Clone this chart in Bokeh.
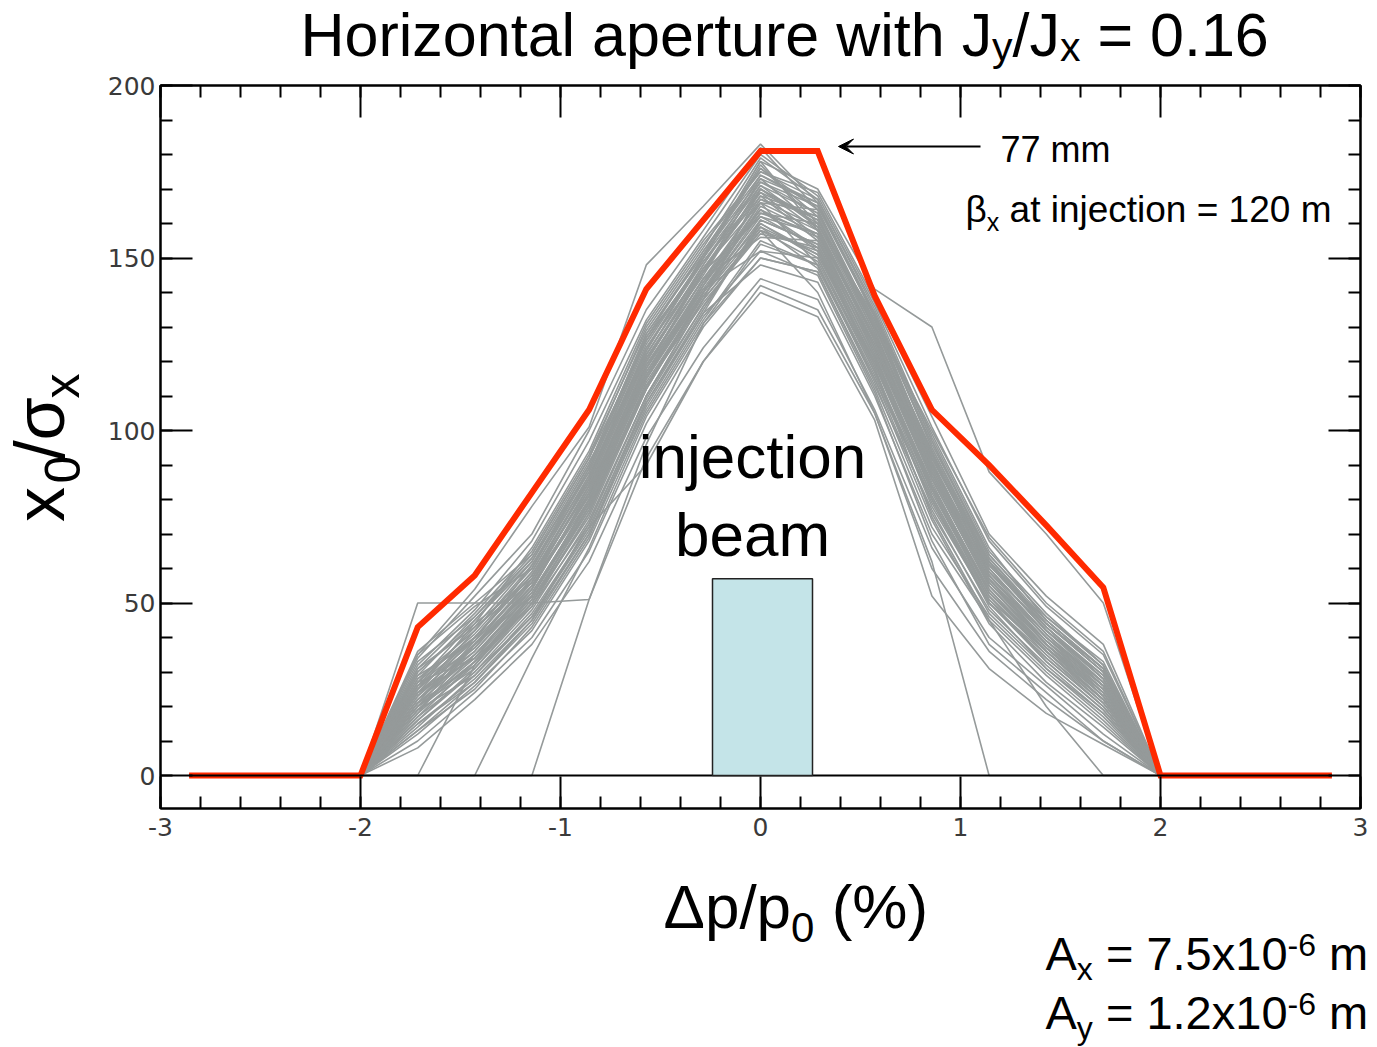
import math
from bokeh.plotting import figure
from bokeh.layouts import column, row
from bokeh.models import (Range1d, LinearAxis, FixedTicker, Label, Arrow, VeeHead,
                          NumeralTickFormatter, CustomJSTickFormatter)
from bokeh.embed import file_html
from bokeh.resources import INLINE

# ---------------- data ----------------
dp_full = [-2.857, -2.0, -1.714, -1.429, -1.143, -0.857, -0.571, -0.286, 0.0,
           0.286, 0.571, 0.857, 1.143, 1.429, 1.714, 2.0, 2.857]
envelope = [0, 0, 43, 58, 82, 106, 141, 161, 181, 181, 139, 106, 90, 72.5, 54.5, 0, 0]

# individual seeds, values at dp = -2.0 ... 2.0 (step 2/7)
tracks = [
    [0, 30, 45, 62, 90, 128, 152, 176, 162, 128, 92, 62, 44, 30, 0],
    [0, 22, 36, 55, 80, 118, 146, 170, 160, 130, 94, 58, 40, 25, 0],
    [0, 18, 32, 50, 75, 112, 140, 165, 157, 124, 86, 55, 38, 24, 0],
    [0, 26, 40, 58, 85, 122, 148, 174, 166, 133, 99, 66, 45, 31, 0],
    [0, 15, 28, 45, 70, 108, 135, 160, 150, 118, 78, 50, 34, 20, 0],
    [0, 32, 48, 68, 97, 132, 156, 180, 168, 137, 101, 68, 49, 35, 0],
    [0, 20, 38, 52, 78, 115, 142, 168, 155, 122, 84, 54, 36, 22, 0],
    [0, 28, 42, 60, 88, 125, 150, 172, 163, 131, 90, 60, 42, 28, 0],
    [0, 12, 26, 42, 68, 105, 132, 155, 148, 115, 76, 48, 32, 18, 0],
    [0, 24, 34, 54, 82, 120, 146, 162, 157, 127, 88, 57, 39, 26, 0],
    [0, 36, 50, 64, 92, 126, 150, 177, 160, 133, 96, 64, 46, 33, 0],
    [0, 17, 30, 48, 74, 110, 138, 158, 152, 120, 82, 52, 35, 21, 0],
    [0, 25, 44, 57, 86, 124, 147, 166, 164, 129, 91, 59, 43, 29, 0],
    [0, 21, 35, 53, 79, 117, 141, 152, 150, 117, 79, 50, 34, 20, 0],
    [0, 29, 39, 61, 89, 127, 149, 169, 161, 132, 93, 61, 44, 31, 0],
    [0, 10, 24, 40, 65, 102, 130, 150, 146, 112, 72, 46, 30, 16, 0],
    [0, 33, 46, 63, 91, 120, 146, 173, 166, 134, 97, 63, 44, 30, 0],
    [0, 19, 33, 51, 77, 114, 139, 161, 154, 121, 85, 53, 37, 23, 0],
    [0, 27, 41, 59, 87, 123, 151, 178, 158, 126, 89, 58, 41, 27, 0],
    [0, 23, 37, 55, 81, 119, 144, 164, 156, 124, 87, 56, 39, 24, 0],
    [0, 14, 29, 47, 72, 108, 134, 148, 143, 110, 70, 45, 29, 15, 0],
    [0, 31, 47, 65, 93, 129, 153, 179, 167, 136, 98, 65, 47, 32, 0],
    [0, 16, 31, 49, 76, 113, 137, 157, 153, 119, 83, 51, 36, 22, 0],
    [0, 26, 43, 56, 84, 121, 145, 171, 159, 127, 90, 58, 41, 26, 0],
    [0, 22, 35, 52, 80, 116, 143, 163, 157, 123, 86, 55, 38, 25, 0],
    [0, 8, 22, 38, 62, 98, 124, 144, 138, 106, 66, 40, 26, 12, 0],
    [0, 35, 49, 60, 89, 127, 152, 174, 165, 133, 92, 61, 45, 31, 0],
    [0, 20, 33, 50, 78, 112, 140, 160, 151, 120, 83, 52, 36, 21, 0],
    [0, 28, 40, 58, 85, 122, 147, 168, 162, 129, 90, 60, 42, 29, 0],
    [0, 24, 36, 54, 83, 119, 144, 156, 155, 125, 88, 56, 39, 25, 0],
    [0, 18, 38, 57, 84, 116, 140, 166, 148, 114, 74, 44, 27, 14, 0],
    [0, 27, 34, 49, 73, 110, 138, 170, 161, 132, 100, 69, 50, 36, 0],
    [0, 13, 27, 44, 70, 106, 133, 152, 145, 111, 68, 38, 24, 10, 0],
    [0, 34, 52, 70, 100, 135, 158, 182, 164, 130, 94, 62, 43, 28, 0],
    [0, 21, 39, 56, 81, 117, 143, 167, 159, 127, 89, 57, 38, 23, 0],
    [0, 50, 50, 50, 51, 96, 131, 154, 148, 116, 80, 50, 35, 20, 0],
    [0, 0, 32, 52, 79, 115, 140, 162, 153, 121, 84, 53, 37, 22, 0],
    [0, 0, 0, 34, 66, 104, 131, 150, 146, 113, 77, 47, 31, 17, 0],
    [0, 0, 0, 0, 51, 92, 120, 142, 135, 105, 60, 36, 22, 10, 0],
    [0, 35, 54, 78, 101, 148, 165, 183, 166, 133, 95, 62, 44, 30, 0],
    [0, 25, 40, 58, 86, 123, 150, 178, 170, 141, 130, 88, 70, 50, 0],
    [0, 20, 34, 52, 78, 113, 138, 158, 140, 105, 62, 0, 0, 0, 0],
    [0, 24, 38, 55, 82, 118, 142, 164, 152, 118, 75, 45, 20, 0, 0],
    [0, 16, 30, 46, 72, 90, 120, 140, 133, 103, 52, 31, 18, 9, 0],
    [0, 30, 44, 66, 94, 131, 155, 175, 169, 138, 104, 70, 52, 38, 0],
    [0, 19, 29, 46, 71, 109, 136, 159, 147, 115, 80, 49, 31, 18, 0],
    [0, 23, 40, 59, 87, 124, 149, 171, 163, 131, 93, 60, 42, 27, 0],
    [0, 17, 33, 52, 80, 116, 142, 166, 158, 125, 87, 56, 38, 23, 0],
    [0, 26, 37, 56, 84, 121, 146, 169, 156, 122, 84, 54, 37, 24, 0],
    [0, 20, 31, 50, 76, 113, 140, 163, 160, 128, 91, 59, 41, 26, 0],
    [0, 29, 46, 64, 92, 130, 154, 175, 167, 135, 97, 64, 46, 32, 0],
    [0, 15, 27, 45, 73, 110, 136, 158, 149, 117, 81, 51, 33, 19, 0],
    [0, 24, 42, 61, 86, 122, 148, 172, 165, 134, 95, 63, 45, 31, 0],
    [0, 19, 35, 53, 79, 115, 141, 164, 153, 121, 83, 53, 36, 22, 0],
    [0, 31, 43, 62, 90, 128, 151, 173, 159, 126, 88, 57, 40, 27, 0],
    [0, 22, 38, 54, 82, 118, 144, 167, 162, 130, 92, 61, 43, 28, 0],
    [0, 13, 25, 43, 69, 107, 134, 161, 154, 123, 86, 55, 37, 22, 0],
    [0, 27, 45, 63, 88, 126, 150, 176, 164, 131, 93, 62, 44, 30, 0],
    [0, 21, 32, 51, 77, 112, 139, 159, 151, 119, 81, 50, 33, 19, 0],
    [0, 25, 39, 57, 83, 120, 147, 170, 158, 127, 90, 58, 40, 26, 0],
]

beam_dp = [-0.24, 0.26]
beam_height = 57

x_major = [-3, -2, -1, 0, 1, 2, 3]
y_major = [0, 50, 100, 150, 200]

# ---------------- page geometry ----------------
PAGE_W, PAGE_H = 1377, 1047
TOP_H, LEFT_W, BOT_H = 70, 90, 187
MAIN_W, MAIN_H = PAGE_W - LEFT_W, PAGE_H - TOP_H - BOT_H

FONT = "Liberation Sans"
SHIFT = 0.355   # anchor -> rendered baseline offset (fraction of font size)
WID = {' ': 278, '%': 889, '(': 333, ')': 333, '.': 278, '/': 278, '-': 333, '=': 584,
       'A': 667, 'H': 722, 'J': 500, 'a': 556, 'b': 556, 'c': 500, 'e': 556, 'h': 556,
       'i': 222, 'j': 222, 'l': 222, 'm': 833, 'n': 556, 'o': 556, 'p': 556, 'r': 333,
       't': 278, 'u': 556, 'w': 722, 'x': 500, 'y': 500, 'z': 500,
       'Δ': 668, 'σ': 578, 'β': 575}
for d in "0123456789":
    WID[d] = 556


def twidth(s, size):
    return sum(WID.get(c, 556) for c in s) * size / 1000.0


def text_panel(x0, y0, w, h):
    """A bare figure whose data coordinates equal page pixels (y downward)."""
    f = figure(width=w, height=h, x_range=Range1d(x0, x0 + w), y_range=Range1d(y0 + h, y0),
               output_backend="svg", toolbar_location=None, x_axis_type=None,
               y_axis_type=None, min_border=0, outline_line_color=None,
               background_fill_color="white", border_fill_color="white")
    f.grid.visible = False
    return f


def add_label(fig, px, py, text, size, conv, align="left", rotated=False):
    """(px, py) = start of the text baseline in page pixels."""
    if rotated:
        x, y = conv(px - SHIFT * size, py + SHIFT * size)
        ang = math.pi / 2
    else:
        x, y = conv(px, py - SHIFT * size)
        ang = 0.0
    fig.add_layout(Label(x=x, y=y, text=text, text_font=FONT,
                         text_font_size=f"{size}px", text_color="black",
                         text_align=align, text_baseline="alphabetic", angle=ang))


def ident(a, b):
    return a, b


def rich(fig, parts, x0, y0, size, conv=ident, rotated=False, sub_off=0.22, sub_ratio=0.68):
    pos = y0 if rotated else x0
    for part in parts:
        text, kind = part[0], part[1]
        gap = part[2] if len(part) > 2 else 0
        if kind == "n":
            s, off = size, 0
        elif kind == "sub":
            s, off = round(size * sub_ratio), size * sub_off
        else:
            s, off = round(size * sub_ratio), -size * 0.30
        body = text.lstrip(" ")
        lead = twidth(text[:len(text) - len(body)], s) + gap
        if rotated:
            pos -= lead
            add_label(fig, x0 + off, pos, body, s, conv, rotated=True)
            pos -= twidth(body, s)
        else:
            pos += lead
            add_label(fig, pos, y0 + off, body, s, conv)
            pos += twidth(body, s)


# ---------------- main chart ----------------
p = figure(width=MAIN_W, height=MAIN_H, x_range=Range1d(-3, 3), y_range=Range1d(-9.565, 200),
           output_backend="svg", toolbar_location=None,
           min_border_left=160 - LEFT_W, min_border_right=17,
           min_border_top=85 - TOP_H, min_border_bottom=TOP_H + MAIN_H - 808,
           background_fill_color="white", border_fill_color="white",
           outline_line_color="black", outline_line_width=2)
p.grid.visible = False

bottom_ax = p.xaxis[0]
left_ax = p.yaxis[0]
top_ax = LinearAxis()
right_ax = LinearAxis()
p.add_layout(top_ax, "above")
p.add_layout(right_ax, "right")

x_minor = [round(-3 + 0.2 * i, 2) for i in range(31)]
y_minor = list(range(0, 201, 10))
for ax in [bottom_ax, top_ax]:
    ax.ticker = FixedTicker(ticks=x_major, minor_ticks=x_minor)
for ax in [left_ax, right_ax]:
    ax.ticker = FixedTicker(ticks=y_major, minor_ticks=y_minor)

for ax in [bottom_ax, left_ax, top_ax, right_ax]:
    ax.axis_line_color = "black"
    ax.axis_line_width = 2
    ax.major_tick_line_color = "black"
    ax.major_tick_line_width = 2
    ax.minor_tick_line_color = "black"
    ax.minor_tick_line_width = 2
    ax.major_tick_in = 32
    ax.major_tick_out = 0
    ax.minor_tick_in = 12
    ax.minor_tick_out = 0

for ax in [bottom_ax, left_ax]:
    ax.formatter = NumeralTickFormatter(format="0")
    ax.major_label_text_font = "DejaVu Sans"
    ax.major_label_text_font_size = "25px"
    ax.major_label_text_color = "#3a3a3a"
bottom_ax.major_label_standoff = 9
left_ax.major_label_standoff = 5

for ax in [top_ax, right_ax]:
    ax.formatter = CustomJSTickFormatter(code="return ''")
    ax.major_label_text_font_size = "0px"
    ax.major_label_standoff = 0

xs = [dp_full for _ in tracks]
ys = [[0] + t + [0] for t in tracks]
p.multi_line(xs, ys, line_color="#959a9a", line_width=1.6)
p.line(dp_full, envelope, line_color="#ff2a00", line_width=6, line_join="miter")
p.line([dp_full[0], dp_full[-1]], [0, 0], line_color="black", line_width=2)
p.quad(left=[beam_dp[0]], right=[beam_dp[1]], bottom=[0], top=[beam_height],
       fill_color="#c4e4e8", line_color="#222222", line_width=1.5)


def to_data(px, py):
    return (px - 160) / 200.0 - 3, (775 - py) / 3.45


add_label(p, 1000, 162, "77 mm", 36, to_data)
rich(p, [("β", "n"), ("x", "sub"), (" at injection = 120 m", "n")], 965, 222, 37, conv=to_data)
add_label(p, 752, 478, "injection", 62, to_data, align="center")
add_label(p, 752, 556, "beam", 62, to_data, align="center")
ax0, ay0 = to_data(980, 146)
ax1, ay1 = to_data(838, 146)
p.add_layout(Arrow(end=VeeHead(size=15, fill_color="black", line_color="black"),
                   x_start=ax0, y_start=ay0, x_end=ax1, y_end=ay1,
                   line_color="black", line_width=2))

# ---------------- surrounding text panels ----------------
top_panel = text_panel(0, 0, PAGE_W, TOP_H)
rich(top_panel, [("Horizontal aperture with J", "n"), ("y", "sub"), ("/J", "n"), ("x", "sub"),
                 (" = 0.16", "n")], 300, 56, 61, sub_off=0.08)

left_panel = text_panel(0, TOP_H, LEFT_W, MAIN_H)
rich(left_panel, [("x", "n"), ("0", "sub"), ("/σ", "n", 5), ("x", "sub")], 64, 522, 70,
     rotated=True, sub_ratio=0.72)

bottom_panel = text_panel(0, TOP_H + MAIN_H, PAGE_W, BOT_H)
rich(bottom_panel, [("Δp/p", "n"), ("0", "sub"), (" (%)", "n")], 663, 928, 62)
rich(bottom_panel, [("A", "n"), ("x", "sub"), (" = 7.5x10", "n"), ("-6", "sup"), (" m", "n")],
     1045, 970, 47)
rich(bottom_panel, [("A", "n"), ("y", "sub"), (" = 1.2x10", "n"), ("-6", "sup"), (" m", "n")],
     1045, 1029, 47)

page = column(top_panel, row(left_panel, p), bottom_panel)
open("out.html", "w").write(file_html(page, INLINE))
